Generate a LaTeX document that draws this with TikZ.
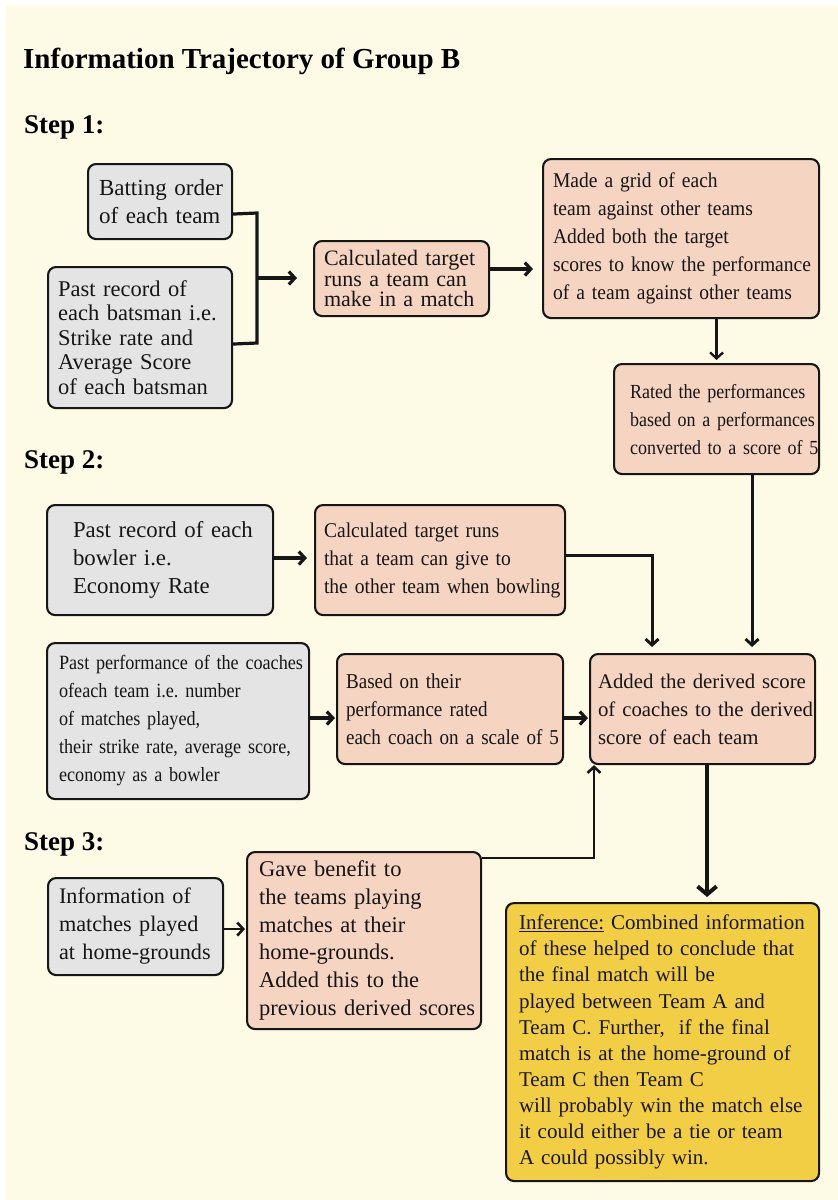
\documentclass[tikz,border=0pt]{standalone}
\usepackage{fontspec}
\setmainfont{Liberation Serif}
\newfontfamily\condA{Liberation Serif}[FakeStretch=0.93]
\newfontfamily\condB{Liberation Serif}[FakeStretch=0.9]
\usetikzlibrary{arrows.meta}
\definecolor{bgcream}{HTML}{FDFAE5}
\definecolor{boxgray}{HTML}{E4E4E4}
\definecolor{boxsalmon}{HTML}{F6D4C2}
\definecolor{boxgold}{HTML}{F2CE45}
\definecolor{ink}{HTML}{161616}
\newcommand{\fsz}[2]{\fontsize{#1}{#2}\selectfont}
\frenchspacing
\begin{document}
\begin{tikzpicture}[x=1pt,y=-1pt,
  box/.style={draw=ink, line width=2.1pt, rounded corners=8pt, anchor=north west,
              align=left, inner ysep=0pt, text=ink},
  gbox/.style={box, fill=boxgray},
  sbox/.style={box, fill=boxsalmon},
  ybox/.style={box, fill=boxgold},
  steplabel/.style={anchor=base west, inner sep=0pt, font=\bfseries\fsz{27}{30}, text=black},
  conn/.style={draw=ink, line width=2.9pt},
  arr/.style={conn, -{Straight Barb[length=6pt,width=13pt]}},
  bigarr/.style={draw=ink, line width=4pt, -{Straight Barb[length=8pt,width=19pt]}}
]
\useasboundingbox (0,0) rectangle (838,1200);
\fill[white] (0,0) rectangle (838,1200);
\fill[bgcream] (6,5) rectangle (838,1200);

% titles
\node[anchor=base west, inner sep=0pt, font=\bfseries\fsz{29}{34}] (title) at (23,68) {Information Trajectory of Group B};
\node[steplabel] (s1) at (24,133) {Step 1:};
\node[steplabel] (s2) at (24,468) {Step 2:};
\node[steplabel] (s3) at (24,850) {Step 3:};

% Step 1
\node[gbox, minimum width=144pt, minimum height=75pt, inner xsep=11pt, text width=122pt, font=\fsz{23}{28}]
  (bat) at (87,163) {\mbox{Batting order}\\\mbox{of each team}};
\node[gbox, minimum width=184pt, minimum height=141pt, inner xsep=10pt, text width=164pt, font=\fsz{22.5}{24.6}]
  (pastbat) at (47,266) {\mbox{Past record of}\\\mbox{each batsman i.e.}\\\mbox{Strike rate and}\\\mbox{Average Score}\\\mbox{of each batsman}};
\node[sbox, minimum width=175pt, minimum height=75pt, inner xsep=10pt, text width=155pt, font=\fsz{22}{20.5}]
  (calc1) at (313,240) {\mbox{Calculated target}\\\mbox{runs a team can}\\\mbox{make in a match}};
\node[sbox, minimum width=276pt, minimum height=159pt, inner xsep=10pt, text width=256pt, font=\condA\fsz{21}{28}]
  (grid) at (542,158) {\mbox{Made a grid of each}\\\mbox{team against other teams}\\\mbox{Added both the target}\\\mbox{scores to know the performance}\\\mbox{of a team against other teams}};
\node[sbox, minimum width=205pt, minimum height=110pt, inner xsep=16pt, text width=173pt, font=\condB\fsz{20}{28}]
  (rated) at (613,363) {\mbox{Rated the performances}\\\mbox{based on a performances}\\\mbox{converted to a score of 5}};

% Step 2
\node[gbox, minimum width=226pt, minimum height=110pt, inner xsep=26pt, text width=174pt, font=\fsz{22.8}{28}]
  (bowler) at (46,504) {\mbox{Past record of each}\\\mbox{bowler i.e.}\\\mbox{Economy Rate}};
\node[sbox, minimum width=250pt, minimum height=110pt, inner xsep=9pt, text width=232pt, font=\condA\fsz{21}{28}]
  (calc2) at (314,504) {\mbox{Calculated target runs}\\\mbox{that a team can give to}\\\mbox{the other team when bowling}};
\node[gbox, minimum width=262pt, minimum height=156pt, inner xsep=12pt, text width=238pt, font=\condB\fsz{20.2}{28}]
  (coaches) at (46,642) {\mbox{Past performance of the coaches}\\\mbox{ofeach team i.e. number}\\\mbox{of matches played,}\\\mbox{their strike rate, average score,}\\\mbox{economy as a bowler}};
\node[sbox, minimum width=226pt, minimum height=110pt, inner xsep=9pt, text width=208pt, font=\condB\fsz{21.2}{28}]
  (based) at (336,653) {\mbox{Based on their}\\\mbox{performance rated}\\\mbox{each coach on a scale of 5}};
\node[sbox, minimum width=225pt, minimum height=110pt, inner xsep=8pt, text width=209pt, font=\fsz{20.8}{28}]
  (added) at (589,653) {\mbox{Added the derived score}\\\mbox{of coaches to the derived}\\\mbox{score of each team}};

% Step 3
\node[gbox, minimum width=175pt, minimum height=97pt, inner xsep=11pt, text width=153pt, font=\fsz{22.2}{28}]
  (info) at (47,877) {\mbox{Information of}\\\mbox{matches played}\\\mbox{at home-grounds}};
\node[sbox, minimum width=234pt, minimum height=177pt, inner xsep=12pt, text width=210pt, font=\fsz{22.5}{27.7}]
  (gave) at (246,851) {\mbox{Gave benefit to}\\\mbox{the teams playing}\\\mbox{matches at their}\\\mbox{home-grounds.}\\\mbox{Added this to the}\\\mbox{previous derived scores}};
\node[ybox, minimum width=313pt, minimum height=278pt, inner xsep=13pt, text width=287pt, font=\fsz{21}{26.1}]
  (inf) at (505,902) {\mbox{\underline{Inference:} Combined information}\\\mbox{of these helped to conclude that}\\\mbox{the final match will be}\\\mbox{played between Team A and}\\\mbox{Team C. Further, \ if the final}\\\mbox{match is at the home-ground of}\\\mbox{Team C then Team C}\\\mbox{will probably win the match else}\\\mbox{it could either be a tie or team}\\\mbox{A could possibly win.}};

% connectors
\coordinate (jtop) at (257,213);
\coordinate (jmid) at (257,278);
\coordinate (jbot) at (257,343);
\draw[conn, line width=3.2pt] ([yshift=-12.5pt]bat.east) -- (jtop) -- (jbot) -- ([yshift=-6.5pt]pastbat.east);
\draw[arr, line width=3.2pt, shorten >=16pt] (jmid) -- (jmid -| calc1.west);
\draw[arr, line width=3.2pt, shorten >=9pt] ([yshift=9.5pt]calc1.east) -- ([yshift=9.5pt]calc1.east -| grid.west);
\draw[arr, line width=2.3pt, shorten >=3pt] (rated.north |- grid.south) -- (rated.north);
\draw[arr, shorten >=6pt] ([xshift=35.5pt]rated.south) -- ([xshift=35.5pt]rated.south |- added.north);
\draw[arr, line width=3.2pt, shorten >=7pt] ([yshift=2pt]bowler.east) -- ([yshift=2pt]bowler.east -| calc2.west);
\draw[arr, shorten >=6pt] ([yshift=5pt]calc2.east) -| ([xshift=-50.5pt]added.north);
\draw[arr, line width=3.2pt, shorten >=1pt] ([yshift=3pt]coaches.east) -- ([yshift=3pt]coaches.east -| based.west);
\draw[arr, line width=3.2pt, shorten >=1pt] ([yshift=-9pt]based.east) -- ([yshift=-9pt]based.east -| added.west);
\draw[arr, line width=2.6pt, shorten >=1pt] ([yshift=-2.5pt]info.east) -- ([yshift=-2.5pt]info.east -| gave.west);
\draw[arr, line width=2.6pt] ([yshift=-7pt]gave.north east) -| ([xshift=5pt]added.south west);
\draw[bigarr, shorten >=5pt] ([xshift=4.5pt]added.south) -- ([xshift=4.5pt]added.south |- inf.north);
\end{tikzpicture}
\end{document}
